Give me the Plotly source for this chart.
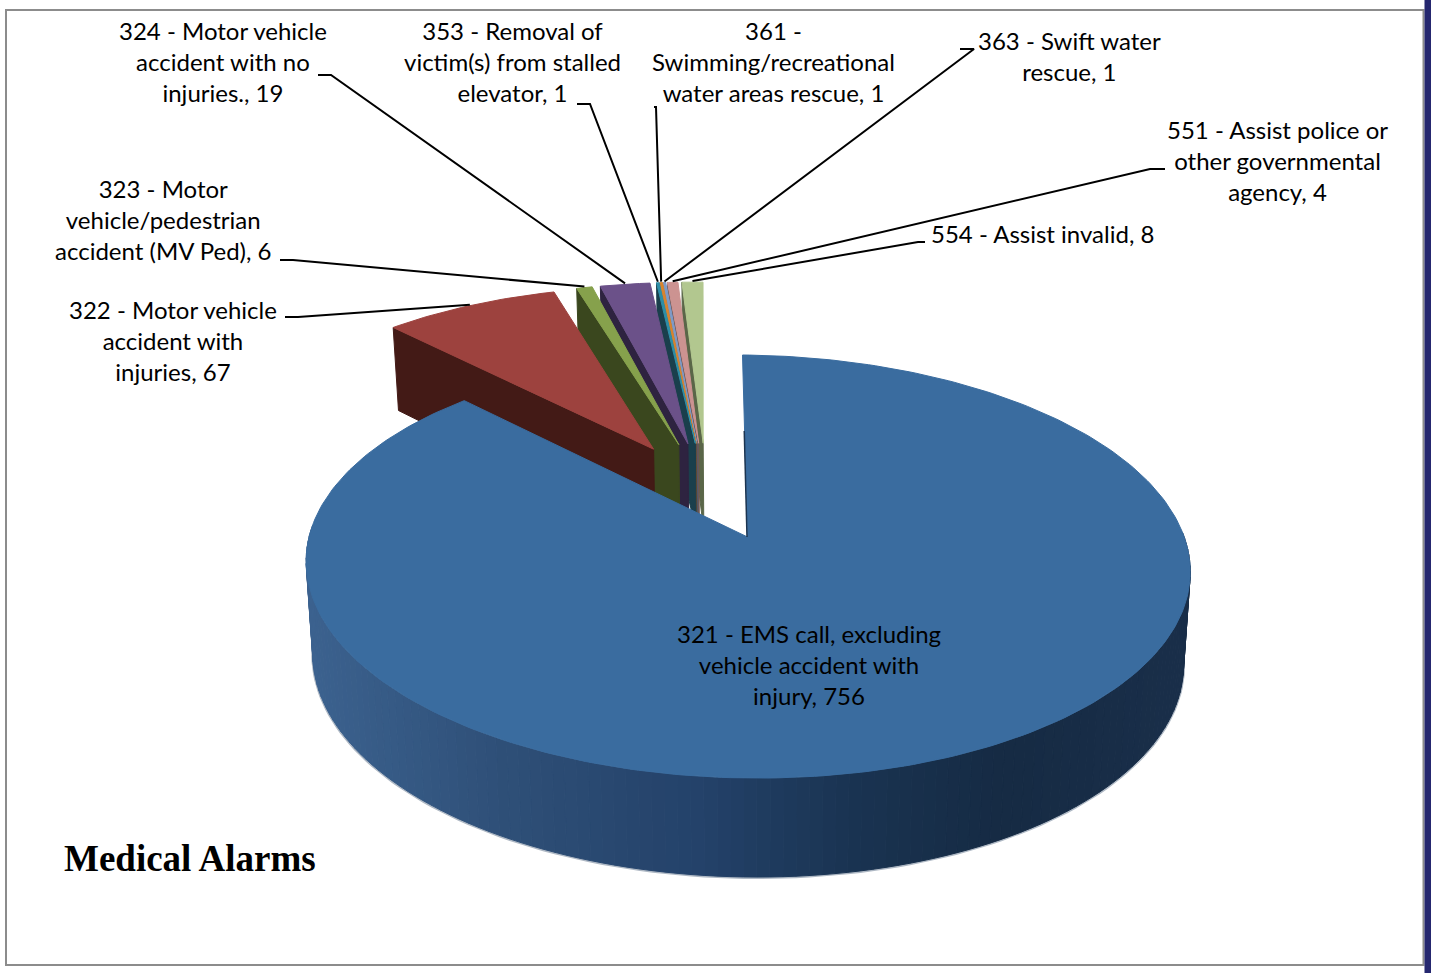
import numpy as np
import plotly.graph_objects as go

# slices, clockwise from 12 o'clock
CODES = ["321", "322", "323", "324", "353", "361", "363", "551", "554"]
VALUES = [756, 67, 6, 19, 1, 1, 1, 4, 8]
LABELS = [
    "321 - EMS call, excluding<br>vehicle accident with<br>injury, 756",
    "322 - Motor vehicle<br>accident with<br>injuries, 67",
    "323 - Motor<br>vehicle/pedestrian<br>accident (MV Ped), 6",
    "324 - Motor vehicle<br>accident with no<br>injuries., 19",
    "353 - Removal of<br>victim(s) from stalled<br>elevator, 1",
    "361 -<br>Swimming/recreational<br>water areas rescue, 1",
    "363 - Swift water<br>rescue, 1",
    "551 - Assist police or<br>other governmental<br>agency, 4",
    "554 - Assist invalid, 8",
]
TOP_COLORS = ["#3A6C9F", "#9D423E", "#86A14C", "#6B5189", "#2E8FA8",
              "#D8842F", "#7E9BC8", "#CC9391", "#B2C78F"]
WALL_COLORS = ["#1B3450", "#431A16", "#3A471E", "#2E2340", "#1A3F4C",
               "#6B4A2A", "#4A5870", "#6B5654", "#5A6648"]

# label centres and where each leader line leaves its label (page pixels)
LABEL_X = [809, 173, 163, 223, 512, 773, 1069, 1277, 1042]
LABEL_Y = [664.5, 340.5, 219.5, 61, 61, 61, 56, 160, 233.5]
LEADER_FROM = [None, (285, 317), (280, 260), (318, 75), (577, 104),
               (654, 107), (960, 49), (1165, 169), (925, 242)]
LEADER_ELBOW = [None, (298, 317), (293, 260), (331, 75), (590, 104),
                (656, 107), (974, 49), (1150, 169), (918, 242)]

# pie camera, fitted by eye to the picture
CX, CY = 747.5, 537
A, B, K = 437.7, 207.4, 0.1396
SKEW, TILT = -5, 3
EXPLODE = 0.25
BOTTOM_SCALE = 0.985
# shading of the outer wall, left to right across the page
RIM_X = [310, 500, 700, 850, 1000, 1190]
RIM_R = [60, 47, 36, 26, 22, 26]
RIM_G = [98, 80, 66, 52, 43, 47]
RIM_B = [143, 120, 106, 82, 68, 74]


def project(px, v):
    w = 1 + K * v
    return CX + A * px / w + SKEW * v, CY - B * v / w + TILT * px


def drop(x, y, v):
    return CX + (x - CX) * BOTTOM_SCALE, y + 91.6 - 7.4 * v


def polygon(fig, xs, ys, color):
    fig.add_trace(go.Scatter(
        x=xs, y=ys, mode="lines", fill="toself", fillcolor=color,
        line=dict(color=color, width=1), hoverinfo="skip", showlegend=False
    ))


total = sum(VALUES)
edges = np.cumsum([0] + VALUES) / total * 2 * np.pi
mids = (edges[:-1] + edges[1:]) / 2
off_px = EXPLODE * (np.sin(mids) - np.sin(mids[0]))
off_v = EXPLODE * (np.cos(mids) - np.cos(mids[0]))

fig = go.Figure()

# back slices first, the big one goes on top
for i in range(len(VALUES) - 1, 0, -1):
    ax, ay = project(off_px[i], off_v[i])
    ox, oy = project(off_px[i] + np.sin(edges[i]), off_v[i] + np.cos(edges[i]))
    ax2, ay2 = drop(ax, ay, off_v[i])
    ox2, oy2 = drop(ox, oy, off_v[i] + np.cos(edges[i]))
    polygon(fig, [ax, ox, ox2, ax2, ax], [ay, oy, oy2, ay2, ay], WALL_COLORS[i])

    t = np.linspace(edges[i], edges[i + 1], 30)
    rx, ry = project(off_px[i] + np.sin(t), off_v[i] + np.cos(t))
    polygon(fig, [ax, *rx, ax], [ay, *ry, ay], TOP_COLORS[i])

# outer wall of the big slice, as thin facets so it can shade across
t = np.radians(np.arange(88, 273, 1.5))
px, v = np.sin(t), np.cos(t)
x1, y1 = project(px, v)
x2, y2 = drop(x1, y1, v)
fig.add_trace(go.Scatter(x=x2, y=y2 + 0.5, mode="lines", hoverinfo="skip", showlegend=False,
                         line=dict(color="#AEB8C4", width=3)))
for j in range(len(t) - 1):
    mx = (x1[j] + x1[j + 1]) / 2
    color = "rgb(%d,%d,%d)" % (np.interp(mx, RIM_X, RIM_R), np.interp(mx, RIM_X, RIM_G),
                               np.interp(mx, RIM_X, RIM_B))
    polygon(fig, [x1[j], x1[j + 1], x2[j + 1], x2[j], x1[j]],
            [y1[j], y1[j + 1], y2[j + 1], y2[j], y1[j]], color)

t = np.linspace(edges[0], edges[1], 300)
rx, ry = project(np.sin(t), np.cos(t))
ax, ay = project(0, 0)
polygon(fig, [ax, *rx, ax], [ay, *ry, ay], TOP_COLORS[0])

# thin dark sliver of the big slice's cut face
sx, sy = project(0, 0.55)
fig.add_trace(go.Scatter(x=[ax - 0.5, sx - 0.5], y=[ay, sy], mode="lines", hoverinfo="skip",
                         showlegend=False, line=dict(color=WALL_COLORS[0], width=1.5)))

# leader lines run to the middle of each slice's rim
for i in range(1, len(VALUES)):
    ex, ey = project(off_px[i] + np.sin(mids[i]), off_v[i] + np.cos(mids[i]))
    fig.add_trace(go.Scatter(
        x=[LEADER_FROM[i][0], LEADER_ELBOW[i][0], ex],
        y=[LEADER_FROM[i][1], LEADER_ELBOW[i][1], ey - 1],
        mode="lines", line=dict(color="black", width=2),
        hoverinfo="skip", showlegend=False
    ))

for i in range(len(VALUES)):
    fig.add_annotation(x=LABEL_X[i], y=LABEL_Y[i], text=LABELS[i], showarrow=False,
                       xanchor="center", yanchor="middle", align="center",
                       font=dict(family="Lato", size=24, color="black"))

fig.add_annotation(x=62, y=858, text="<b>Medical Alarms</b>", showarrow=False,
                   xanchor="left", yanchor="middle",
                   font=dict(family="Liberation Serif", size=37, color="black"))

# chart frame and the navy strip at the page edge
fig.add_shape(type="rect", x0=6, x1=1423.5, y0=10, y1=965, layer="below",
              line=dict(color="#8C8C8C", width=2))
fig.add_shape(type="rect", x0=1424.5, x1=1431, y0=0, y1=973, layer="below",
              fillcolor="#25276F", line=dict(width=0))

fig.update_layout(
    width=1431, height=973,
    margin=dict(l=0, r=0, t=0, b=0),
    plot_bgcolor="white", paper_bgcolor="white",
    showlegend=False,
    xaxis=dict(range=[0, 1431], visible=False, fixedrange=True),
    yaxis=dict(range=[973, 0], visible=False, fixedrange=True),
)

fig.write_html("out.html", post_script="document.body.style.margin='0';",
               config=dict(displayModeBar=False))
